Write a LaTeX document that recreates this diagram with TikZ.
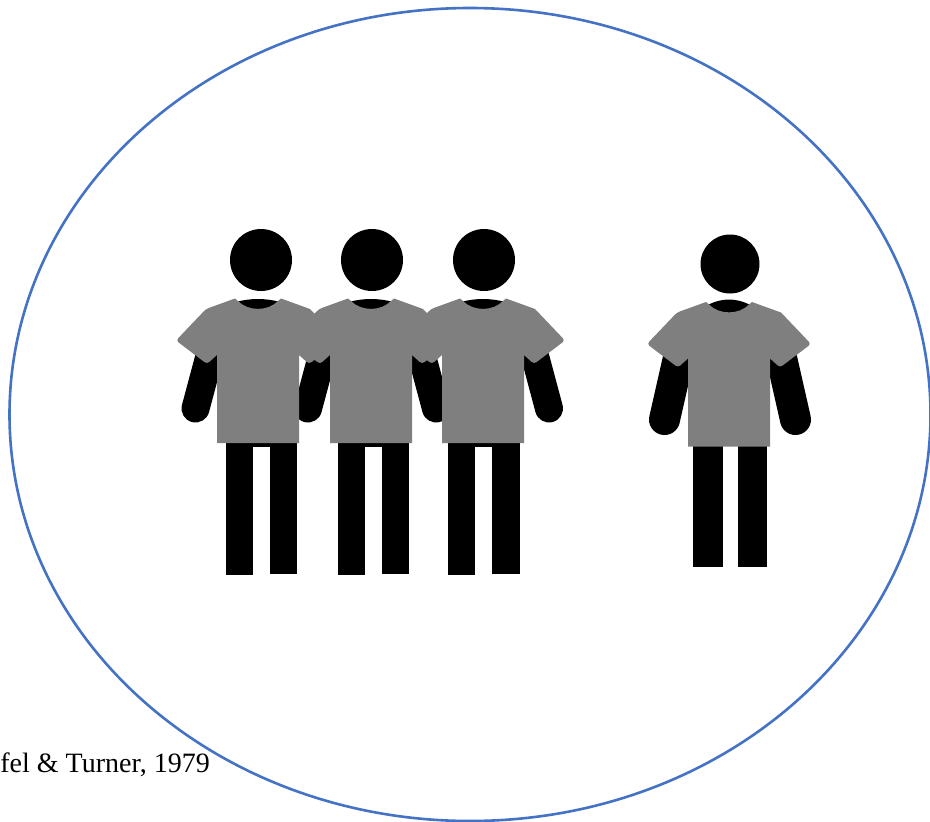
\documentclass[tikz,border=0pt]{standalone}
\usepackage{fontspec}
\setmainfont{Liberation Serif}
\usetikzlibrary{shapes.geometric, positioning}
\definecolor{ringblue}{HTML}{4472C4}
\definecolor{shirtgrey}{HTML}{7F7F7F}
\tikzstyle{ring} = [ellipse, draw=ringblue, line width=2.6pt, minimum width=921pt, minimum height=813pt, inner sep=0pt, outer sep=0pt]
\tikzstyle{head} = [circle, fill=black, inner sep=0pt]
\tikzstyle{arm} = [line width=28pt, line cap=round, draw=black]
\tikzstyle{leg} = [fill=black]
\tikzstyle{source} = [anchor=base east, inner sep=0pt, font=\fontsize{28pt}{30pt}\selectfont]
\tikzset{pics/shirt/.style={code={
        \fill[black] (-22,302) .. controls (-8,#1) and (8,#1) .. (22,302) .. controls (12,314) and (-12,314) .. cycle;
        \fill[shirtgrey] (-41,355) [rounded corners=3pt] -- (-51,364) -- (-82,340.5) -- (-52,309) [sharp corners] -- (-23,298.5) -- (-20,301) .. controls (-10,311.5) and (10,311.5) .. (20,301) -- (23,298.5) -- (52,309) [rounded corners=3pt] -- (82,340.5) -- (51,364) [sharp corners] -- (41,355) -- (41,443) -- (-41,443) -- cycle;
}}}
\begin{document}
\begin{tikzpicture}[x=1pt, y=-1pt]
        \useasboundingbox (0,0) rectangle (930,822);
        \node (circle) [ring] at (470,414.5) {};

        \node (headone) [head, minimum size=62pt] at (261,260) {};
        \node (headtwo) [head, minimum size=62pt] at (372,260) {};
        \node (headthree) [head, minimum size=62pt] at (484,260) {};
        \node (headfour) [head, minimum size=59pt] at (730,264) {};

        \fill [leg] (226,443) rectangle (252.5,575);
        \fill [leg] (270,443) rectangle (297,574);
        \fill [leg] (226,443) rectangle (297,447);
        \fill [leg] (338,443) rectangle (364.5,575);
        \fill [leg] (382,443) rectangle (409,574);
        \fill [leg] (338,443) rectangle (409,447);
        \fill [leg] (448,443) rectangle (474.5,575);
        \fill [leg] (492,443) rectangle (519.5,574);
        \fill [leg] (448,443) rectangle (519.5,447);
        \fill [leg] (693,446) rectangle (722.5,567);
        \fill [leg] (737.5,446) rectangle (767,567);

        \draw [arm] (195.5,408.5) -- (209,358);
        \draw [arm] (308,408.5) -- (321.5,358);
        \draw [arm] (436,408.5) -- (422.5,358);
        \draw [arm] (549,408.5) -- (535.5,358);
        \draw [arm, line width=31pt] (664.5,419.5) -- (678,360);
        \draw [arm, line width=31pt] (795.5,419.5) -- (782,360);

        \pic (shirtone) at (258,0) {shirt=298};
        \pic (shirttwo) at (371,0) {shirt=298};
        \pic (shirtthree) at (483,0) {shirt=298};
        \pic (shirtfour) at (729,3.5) {shirt=294};

        \node (citation) [source] at (210,772) {fel \& Turner, 1979};
\end{tikzpicture}
\end{document}
